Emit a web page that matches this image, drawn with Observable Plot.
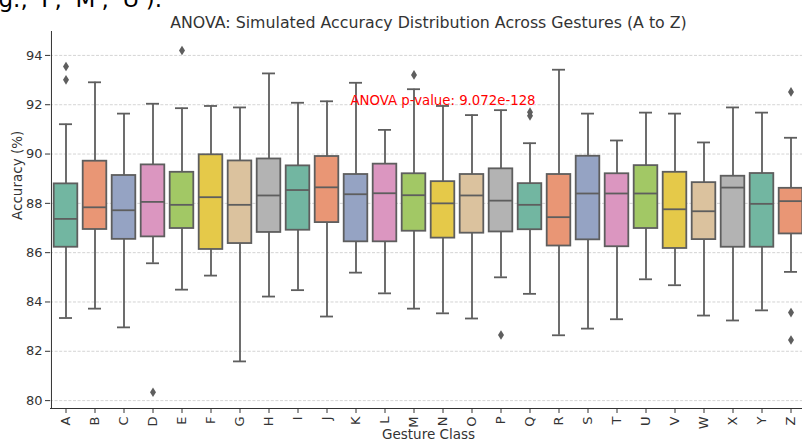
<!DOCTYPE html>
<html>
<head>
<meta charset="utf-8">
<script src="https://cdn.jsdelivr.net/npm/d3@7"></script>
<script src="https://cdn.jsdelivr.net/npm/@observablehq/plot@0.6"></script>
<style>
  html, body { margin: 0; padding: 0; background: white; }
  #chart { width: 802px; height: 441px; overflow: hidden; }
</style>
</head>
<body>
<div id="chart"></div>
<script>
// ---- data ----
const letters = "ABCDEFGHIJKLMNOPQRSTUVWXYZ".split("");
const whiskerLow  = [83.35, 83.73, 82.97, 85.57, 84.50, 85.07, 81.59, 84.22, 84.48, 83.41, 85.19, 84.35, 83.73, 83.54, 83.33, 85.00, 84.33, 82.65, 82.92, 83.30, 84.92, 84.68, 83.45, 83.25, 83.66, 85.22];
const q1          = [86.22, 86.94, 86.54, 86.64, 86.98, 86.13, 86.37, 86.82, 86.91, 87.22, 86.44, 86.44, 86.87, 86.59, 86.79, 86.84, 86.93, 86.27, 86.52, 86.24, 86.98, 86.17, 86.53, 86.22, 86.22, 86.76];
const median      = [87.37, 87.84, 87.72, 88.06, 87.94, 88.25, 87.94, 88.32, 88.54, 88.65, 88.37, 88.41, 88.33, 88.00, 88.32, 88.11, 87.94, 87.44, 88.40, 88.40, 88.40, 87.76, 87.68, 88.64, 87.98, 88.09];
const q3          = [88.79, 89.71, 89.13, 89.56, 89.26, 89.97, 89.72, 89.80, 89.52, 89.90, 89.17, 89.59, 89.20, 88.88, 89.17, 89.40, 88.80, 89.17, 89.91, 89.20, 89.53, 89.26, 88.84, 89.10, 89.21, 88.61];
const whiskerHigh = [91.21, 92.91, 91.64, 92.04, 91.86, 91.95, 91.89, 93.27, 92.08, 92.14, 92.89, 90.98, 92.63, 91.95, 91.58, 91.78, 90.44, 93.42, 91.64, 90.55, 91.68, 91.64, 90.47, 91.89, 91.68, 90.66];
const outlierClass = ["A", "A", "D", "E", "M", "P", "Q", "Q", "Z", "Z", "Z"];
const outlierValue = [93.55, 93.01, 80.34, 94.20, 93.21, 82.66, 91.70, 91.55, 92.52, 83.57, 82.46];
const yTicks = [80, 82, 84, 86, 88, 90, 92, 94];
const titleText = "ANOVA: Simulated Accuracy Distribution Across Gestures (A to Z)";
const annotationText = "ANOVA p-value: 9.072e-128";
const annotationAt = {cls: "N", value: 92.17};
const topCutText = "g., 'I', 'M', 'U').";

// ---- tables built from the arrays ----
const boxes = letters.map((c, i) => ({cls: c, lo: whiskerLow[i], q1: q1[i], med: median[i], q3: q3[i], hi: whiskerHigh[i]}));
const fliers = outlierClass.map((c, i) => ({cls: c, value: outlierValue[i]}));

// seaborn Set2, desaturated by 0.75
const set2 = ["#66c2a5", "#fc8d62", "#8da0cb", "#e78ac3", "#a6d854", "#ffd92f", "#e5c494", "#b3b3b3"];
const palette = set2.map(c => { const h = d3.hsl(c); h.s *= 0.75; return h.formatHex(); });
const lineGray = "#5e5e5e";

const thinDiamond = {
  draw(ctx, size) {
    ctx.moveTo(0, -4.8); ctx.lineTo(3.0, 0); ctx.lineTo(0, 4.8); ctx.lineTo(-3.0, 0); ctx.closePath();
  }
};

const yDomain = [79.68, 94.97];
const hasAxisMarks = typeof Plot.axisX === "function" && typeof Plot.axisY === "function";
const axisMarks = hasAxisMarks ? [
  Plot.axisY(yTicks, {tickSize: 5, tickPadding: 3, fontSize: 13, label: null, color: "#333"}),
  Plot.axisX({tickSize: 5, tickPadding: 3, tickRotate: -90, fontSize: 13, label: null, color: "#333"})
] : [];

const plot = Plot.plot({
  width: 802,
  height: 441,
  marginTop: 31,
  marginBottom: 33,
  marginLeft: 50,
  marginRight: -4,
  style: {fontFamily: "DejaVu Sans", fontSize: "13px", color: "#333", background: "white", overflow: "visible"},
  x: {domain: letters, padding: 0, label: null, tickRotate: -90, tickSize: 5, tickPadding: 3},
  y: {domain: yDomain, ticks: yTicks, tickSize: 5, tickPadding: 3, label: null},
  color: {domain: letters, range: letters.map((_, i) => palette[i % palette.length])},
  marks: [
    Plot.ruleY(yTicks, {stroke: "#cfcfcf", strokeWidth: 0.9, strokeDasharray: "3,1.6"}),
    ...axisMarks,
    Plot.ruleX(boxes, {x: "cls", y1: "lo", y2: "q1", stroke: lineGray, strokeWidth: 1.8}),
    Plot.ruleX(boxes, {x: "cls", y1: "q3", y2: "hi", stroke: lineGray, strokeWidth: 1.8}),
    Plot.tickY(boxes, {x: "cls", y: "lo", stroke: lineGray, strokeWidth: 1.8, insetLeft: 8, insetRight: 8}),
    Plot.tickY(boxes, {x: "cls", y: "hi", stroke: lineGray, strokeWidth: 1.8, insetLeft: 8, insetRight: 8}),
    Plot.barY(boxes, {x: "cls", y1: "q1", y2: "q3", fill: "cls", stroke: lineGray, strokeWidth: 1.8, insetLeft: 2.7, insetRight: 2.7}),
    Plot.tickY(boxes, {x: "cls", y: "med", stroke: lineGray, strokeWidth: 1.8, insetLeft: 2.7, insetRight: 2.7}),
    Plot.dot(fliers, {x: "cls", y: "value", symbol: thinDiamond, fill: lineGray, stroke: "none", r: 3}),
    Plot.ruleY([yDomain[0]], {stroke: "#333", strokeWidth: 1}),
    Plot.ruleX([letters[0]], {stroke: "#333", strokeWidth: 1, dx: -(806 - 50) / letters.length / 2}),
    Plot.text([annotationText], {x: () => annotationAt.cls, y: () => annotationAt.value, fill: "red", fontSize: 13.3, lineAnchor: "middle"}),
    Plot.text([titleText], {frameAnchor: "top", dy: -4, lineAnchor: "bottom", fontSize: 15.8, fill: "#333"}),
    Plot.text(["Accuracy (%)"], {frameAnchor: "left", dx: -33, rotate: -90, fontSize: 13.5, fill: "#333"}),
    Plot.text(["Gesture Class"], {frameAnchor: "bottom", dy: 30, fontSize: 13.5, fill: "#333"}),
    Plot.text([topCutText], {frameAnchor: "top-left", dx: -52, dy: -25, textAnchor: "start", lineAnchor: "bottom", fontSize: 23, fill: "#000", fontFamily: "DejaVu Sans"})
  ]
});
document.getElementById("chart").appendChild(plot);

// fallback for older Plot builds: enlarge the axis tick labels
const tickTexts = new Set([...letters, ...yTicks.map(String)]);
plot.querySelectorAll("text").forEach(t => {
  if (tickTexts.has(t.textContent.trim())) {
    t.setAttribute("font-size", "13");
    t.style.setProperty("font-size", "13px", "important");
    if (t.parentNode && t.parentNode.setAttribute) t.parentNode.setAttribute("font-size", "13");
  }
});
</script>
</body>
</html>
